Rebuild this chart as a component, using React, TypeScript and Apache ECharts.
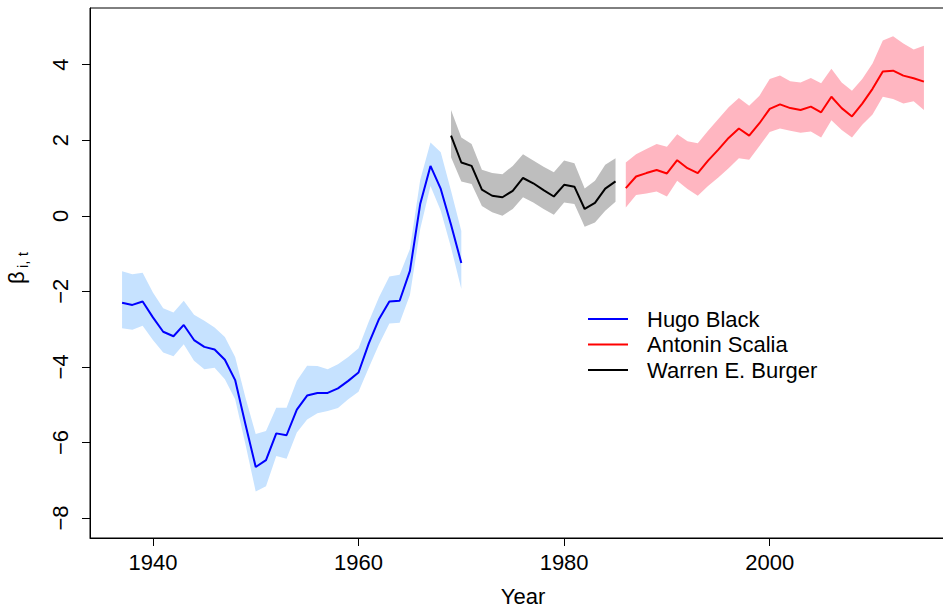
import React, { useEffect, useRef } from "react";
import * as echarts from "echarts";

const FONT = "'Liberation Sans', Arial, Helvetica, sans-serif";

const blackYears = [1937,1938,1939,1940,1941,1942,1943,1944,1945,1946,1947,1948,1949,1950,1951,1952,1953,1954,1955,1956,1957,1958,1959,1960,1961,1962,1963,1964,1965,1966,1967,1968,1969,1970];
const blackMean = [-2.30,-2.36,-2.27,-2.69,-3.07,-3.19,-2.89,-3.29,-3.47,-3.54,-3.81,-4.35,-5.52,-6.65,-6.47,-5.76,-5.81,-5.13,-4.76,-4.69,-4.69,-4.57,-4.37,-4.15,-3.38,-2.73,-2.27,-2.25,-1.46,0.31,1.32,0.71,-0.24,-1.25];
const blackUpper = [-1.47,-1.55,-1.51,-2.03,-2.45,-2.56,-2.25,-2.62,-2.78,-2.96,-3.21,-3.74,-4.81,-5.78,-5.70,-5.08,-5.08,-4.37,-3.97,-3.98,-4.06,-3.93,-3.74,-3.51,-2.80,-2.15,-1.61,-1.56,-0.88,0.95,1.94,1.68,0.66,-0.40];
const blackLower = [-2.98,-3.02,-2.91,-3.29,-3.62,-3.72,-3.40,-3.84,-4.06,-4.02,-4.33,-4.86,-6.05,-7.30,-7.16,-6.36,-6.43,-5.74,-5.39,-5.23,-5.17,-5.09,-4.86,-4.66,-4.02,-3.40,-2.85,-2.83,-2.10,-0.35,0.79,0.13,-0.84,-1.94];

const burgerYears = [1969,1970,1971,1972,1973,1974,1975,1976,1977,1978,1979,1980,1981,1982,1983,1984,1985];
const burgerMean = [2.12,1.41,1.32,0.69,0.53,0.49,0.66,1.00,0.86,0.68,0.51,0.82,0.77,0.18,0.34,0.72,0.91];
const burgerUpper = [2.80,2.07,1.90,1.22,1.13,1.10,1.32,1.63,1.46,1.30,1.15,1.46,1.39,0.72,0.93,1.35,1.52];
const burgerLower = [1.55,0.91,0.84,0.26,0.09,0.00,0.18,0.49,0.35,0.18,0.03,0.35,0.31,-0.29,-0.18,0.13,0.37];

const scaliaYears = [1986,1987,1988,1989,1990,1991,1992,1993,1994,1995,1996,1997,1998,1999,2000,2001,2002,2003,2004,2005,2006,2007,2008,2009,2010,2011,2012,2013,2014,2015];
const scaliaMean = [0.73,1.04,1.13,1.21,1.12,1.47,1.26,1.13,1.46,1.75,2.06,2.31,2.12,2.45,2.83,2.95,2.85,2.80,2.89,2.74,3.15,2.85,2.63,2.97,3.36,3.82,3.84,3.71,3.64,3.55];
const scaliaUpper = [1.41,1.63,1.77,1.90,1.83,2.16,1.97,1.92,2.25,2.56,2.87,3.12,2.91,3.18,3.62,3.71,3.56,3.53,3.65,3.51,3.89,3.53,3.31,3.62,4.03,4.64,4.75,4.56,4.40,4.50];
const scaliaLower = [0.22,0.55,0.59,0.64,0.51,0.93,0.71,0.53,0.79,1.01,1.26,1.52,1.48,1.85,2.22,2.31,2.25,2.20,2.23,2.07,2.53,2.27,2.07,2.41,2.68,3.15,3.09,2.97,3.03,2.80];

const xTicks = [1940, 1960, 1980, 2000];
const yTicks = [-8, -6, -4, -2, 0, 2, 4];
const legendNames = ["Hugo Black", "Antonin Scalia", "Warren E. Burger"];

function bandSeries(years: number[], upper: number[], lower: number[], color: string) {
  return {
    type: "custom",
    silent: true,
    data: [[years[0], upper[0]]],
    renderItem: (params: any, api: any) => {
      const pts: number[][] = [];
      for (let i = 0; i < years.length; i++) pts.push(api.coord([years[i], upper[i]]));
      for (let i = years.length - 1; i >= 0; i--) pts.push(api.coord([years[i], lower[i]]));
      return { type: "polygon", shape: { points: pts }, style: { fill: color, stroke: "none" } };
    },
  };
}

function lineSeries(name: string, years: number[], vals: number[], color: string) {
  return {
    type: "line",
    name,
    data: years.map((y, i) => [y, vals[i]]),
    symbol: "none",
    showSymbol: false,
    lineStyle: { color, width: 2 },
    itemStyle: { color },
  };
}

export default function App() {
  const ref = useRef<HTMLDivElement>(null);
  useEffect(() => {
    if (!ref.current) return;
    const chart = echarts.init(ref.current, undefined, { renderer: "svg" });
    chart.setOption({
      animation: false,
      backgroundColor: "#fff",
      textStyle: { fontFamily: FONT },
      grid: {
        left: 90, top: 8, right: 4, bottom: 70,
        containLabel: false,
        outerBoundsMode: "none",
        show: true, borderColor: "#000", borderWidth: 1, backgroundColor: "transparent",
      },
      legend: {
        data: legendNames.map((n) => ({ name: n, icon: "rect" })),
        orient: "vertical",
        left: 583,
        top: 303,
        itemWidth: 40,
        itemHeight: 2,
        itemGap: 3.5,
        textStyle: { fontSize: 22, lineHeight: 22, color: "#000", fontFamily: FONT, padding: [0, 0, 0, 14] },
      },
      xAxis: {
        type: "value",
        min: 1933.88,
        max: 2018.12,
        name: "Year",
        nameLocation: "middle",
        nameGap: 48,
        nameTextStyle: { fontSize: 22, lineHeight: 20, color: "#000", fontFamily: FONT },
        splitLine: { show: false },
        axisLine: { show: true, onZero: false, lineStyle: { color: "#000", width: 1 } },
        axisTick: { show: true, length: 8, customValues: xTicks, lineStyle: { color: "#000" } },
        axisLabel: { customValues: xTicks, fontSize: 22, lineHeight: 22, color: "#000", margin: 13, fontFamily: FONT, formatter: (v: number) => String(v) },
      },
      yAxis: {
        type: "value",
        min: -8.53,
        max: 5.5,
        splitLine: { show: false },
        axisLine: { show: true, onZero: false, lineStyle: { color: "#000", width: 1 } },
        axisTick: { show: true, length: 8, customValues: yTicks, lineStyle: { color: "#000" } },
        axisLabel: {
          customValues: yTicks,
          rotate: 90,
          fontSize: 22,
          color: "#000",
          margin: 19,
          fontFamily: FONT,
          formatter: (v: number) => (v < 0 ? "\u2212" + Math.abs(v) : String(v)),
        },
      },
      graphic: [
        {
          type: "group",
          x: 16,
          y: 284,
          rotation: Math.PI / 2,
          children: [
            { type: "text", x: 0, y: 0, style: { text: "β", font: `22px ${FONT}`, fill: "#000", textAlign: "left", textVerticalAlign: "middle" } },
            { type: "text", x: 16, y: 6, style: { text: "i, t", font: `15px ${FONT}`, fill: "#000", textAlign: "left", textVerticalAlign: "middle" } },
          ],
        },
      ],
      series: [
        bandSeries(blackYears, blackUpper, blackLower, "#C6E2FF"),
        lineSeries("Hugo Black", blackYears, blackMean, "#0000FF"),
        bandSeries(burgerYears, burgerUpper, burgerLower, "#BEBEBE"),
        lineSeries("Warren E. Burger", burgerYears, burgerMean, "#000000"),
        bandSeries(scaliaYears, scaliaUpper, scaliaLower, "#FFB6C1"),
        lineSeries("Antonin Scalia", scaliaYears, scaliaMean, "#FF0000"),
      ],
    });
    return () => chart.dispose();
  }, []);
  return (
    <div style={{ position: "absolute", left: 0, top: 0, width: 943, height: 608, overflow: "hidden", background: "#fff" }}>
      <div ref={ref} style={{ width: 960, height: 608 }} />
    </div>
  );
}
